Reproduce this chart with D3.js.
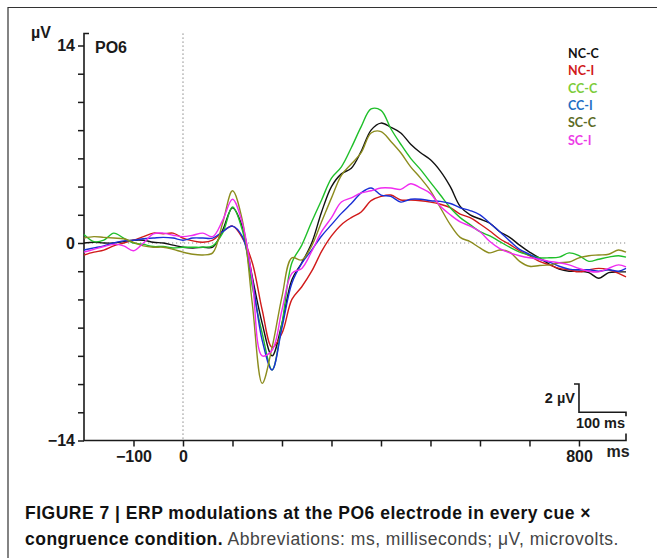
<!DOCTYPE html>
<html>
<head>
<meta charset="utf-8">
<script src="https://cdn.jsdelivr.net/npm/d3@7"></script>
<style>
  body { margin: 0; background: #fff; }
  svg { display: block; font-family: "Liberation Sans", Arial, sans-serif; }
  .axis text { font-size: 16px; font-weight: bold; fill: #1a1a1a; }
  .axis line { stroke: #1a1a1a; stroke-width: 1.5; }
  .legend text { font-family: Lato, "Open Sans", sans-serif; font-size: 12.5px; font-weight: bold; }
  .caption { font-size: 17.5px; fill: #111; letter-spacing: 0.5px; }
</style>
</head>
<body>
<svg id="erp" width="657" height="558"></svg>
<script>
// time points (ms)
const times = [-200, -180, -160, -140, -120, -100, -80, -60, -40, -20,
  0, 20, 40, 60, 80, 100, 120, 140, 160, 180,
  200, 220, 240, 260, 280, 300, 320, 340, 360, 380,
  400, 420, 440, 460, 480, 500, 520, 540, 560, 580,
  600, 620, 640, 660, 680, 700, 720, 740, 760, 780,
  800, 820, 840, 860, 880, 895];

// amplitudes (µV) per condition
const ncC = [0.0, 0.05, 0.0, 0.0, 0.1, 0.2, 0.2, 0.05, 0.0, -0.15,
  -0.3, -0.35, -0.3, -0.3, 0.9, 2.5, 1.15, -2.4, -5.7, -8.0,
  -5.7, -2.6, -1.4, 0.0, 2.2, 4.0, 4.9, 5.3, 6.5, 8.0,
  8.5, 8.2, 7.8, 7.0, 6.4, 5.9, 5.1, 4.0, 2.6, 2.0,
  1.7, 1.4, 0.8, 0.4, -0.15, -0.65, -1.05, -1.5, -1.85, -2.0,
  -2.0, -2.1, -2.5, -2.1, -2.05, -2.05];
const ncI = [-0.85, -0.65, -0.5, -0.2, 0.0, 0.2, 0.45, 0.7, 0.65, 0.7,
  0.35, 0.15, 0.05, 0.2, 0.8, 1.2, 0.35, -1.4, -4.75, -7.4,
  -6.4, -4.0, -3.1, -2.0, -0.6, 0.5, 1.3, 1.8, 2.2, 3.0,
  3.3, 3.4, 3.05, 3.05, 3.0, 2.9, 2.75, 2.5, 2.05, 1.8,
  1.35, 0.85, 0.3, -0.1, -0.55, -0.9, -1.3, -1.55, -1.8, -1.9,
  -2.05, -1.9, -1.8, -1.9, -2.15, -2.4];
const ccC = [0.6, 0.1, 0.2, 0.7, 0.35, 0.0, -0.1, -0.25, -0.25, -0.35,
  -0.3, -0.3, -0.3, -0.2, 0.7, 2.55, 0.9, -3.1, -6.4, -9.0,
  -5.7, -1.4, -0.15, 1.5, 3.05, 4.6, 5.4, 6.75, 8.25, 9.5,
  9.4, 8.1, 7.0, 6.0, 5.2, 4.3, 3.4, 2.5, 1.8, 1.3,
  0.8, 0.5, 0.1, -0.3, -0.65, -0.85, -1.05, -1.05, -1.0, -0.7,
  -0.9, -1.3, -1.15, -1.0, -0.9, -1.0];
const ccI = [-0.5, -0.35, -0.2, 0.0, 0.15, 0.2, 0.3, 0.35, 0.4, 0.35,
  0.2, 0.35, 0.35, 0.35, 0.8, 1.2, 0.45, -2.6, -6.9, -9.0,
  -6.0, -2.85, -1.45, -0.5, 0.5, 1.3, 2.1, 2.8, 3.55, 3.9,
  3.4, 3.3, 2.9, 3.1, 3.1, 3.0, 2.95, 2.8, 2.5, 2.3,
  2.0, 1.4, 0.8, 0.15, -0.45, -0.8, -1.15, -1.35, -1.65, -1.85,
  -1.9, -1.9, -2.0, -1.9, -2.0, -1.8];
const scC = [0.35, 0.45, 0.4, 0.35, 0.3, 0.05, -0.2, -0.3, -0.3, -0.45,
  -0.65, -0.8, -0.85, -0.7, 1.4, 3.7, 1.6, -4.3, -9.95, -7.4,
  -3.8, -1.05, -1.2, -0.2, 1.5, 3.2, 4.8, 5.6, 6.4, 7.8,
  7.9, 7.2, 6.4, 5.4, 4.6, 3.7, 2.5, 1.3, 0.4, 0.1,
  -0.35, -0.7, -0.5, -0.65, -1.3, -1.65, -1.6, -1.55, -1.4, -1.35,
  -1.05, -0.9, -0.85, -0.8, -0.5, -0.65];
const scI = [-0.65, -0.45, -0.25, -0.1, -0.2, -0.55, 0.0, 0.65, 0.7, 0.55,
  0.45, 0.55, 0.7, 0.45, 1.6, 3.1, 1.4, -2.6, -8.0, -7.6,
  -4.75, -2.15, -1.8, -0.6, 0.8, 1.8, 2.9, 3.2, 3.55, 3.7,
  3.9, 3.9, 3.8, 4.2, 3.9, 3.5, 2.6, 2.0, 1.5, 1.2,
  0.8, 0.1, -0.4, -0.7, -0.9, -1.05, -1.15, -1.3, -1.4, -1.55,
  -1.8, -2.0, -2.05, -1.8, -1.55, -1.7];

const conditions = ["NC-C", "NC-I", "CC-C", "CC-I", "SC-C", "SC-I"];
const seriesValues = [ncC, ncI, ccC, ccI, scC, scI];

const yTicks = [-14, -12, -10, -8, -6, -4, -2, 0, 2, 4, 6, 8, 10, 12, 14];
const yLabels = [-14, 0, 14];
const xTicks = [-100, 0, 100, 200, 300, 400, 500, 600, 700, 800];
const xLabels = [-100, 0, 800];

const lineColors = ["#111111", "#d11a1a", "#1fbf2a", "#1a2fd6", "#8c8c1e", "#f02cf0"];
const legendColors = ["#111111", "#d11a1a", "#7ccc3a", "#1f6fc4", "#5c6b25", "#ec3ce6"];

const svg = d3.select("#erp");

// figure frame
svg.append("path")
  .attr("d", "M8,560 V7.5 H660")
  .attr("fill", "none")
  .attr("stroke", "#333")
  .attr("stroke-width", 1.2);

const x = d3.scaleLinear().domain([-200, 895]).range([84, 626]);
const y = d3.scaleLinear().domain([-14, 14]).range([440.5, 45.5]);

// dotted reference lines
svg.append("line")
  .attr("x1", x(0)).attr("x2", x(0))
  .attr("y1", y(14) - 12).attr("y2", y(-14))
  .attr("stroke", "#888").attr("stroke-width", 1.2)
  .attr("stroke-dasharray", "1.2,2.8");
svg.append("line")
  .attr("x1", x(-200)).attr("x2", x(895))
  .attr("y1", y(0)).attr("y2", y(0))
  .attr("stroke", "#888").attr("stroke-width", 1.2)
  .attr("stroke-dasharray", "1.2,2.8");

// axes
const yAxis = svg.append("g")
  .attr("class", "axis y-axis")
  .attr("transform", `translate(${x(-200)},0)`)
  .call(d3.axisLeft(y)
    .tickValues(yTicks)
    .tickSize(6)
    .tickPadding(3)
    .tickFormat(d => yLabels.includes(d) ? d3.format("d")(d) : ""));
yAxis.select(".domain").remove();

const xAxis = svg.append("g")
  .attr("class", "axis x-axis")
  .attr("transform", `translate(0,${y(-14)})`)
  .call(d3.axisBottom(x)
    .tickValues(xTicks)
    .tickSize(6)
    .tickPadding(4)
    .tickFormat(d => xLabels.includes(d) ? d3.format("d")(d) : ""));
xAxis.select(".domain").remove();

// axis lines with end caps
svg.append("path")
  .attr("d", `M${x(-200) + 5},${y(14) - 12} H${x(-200)} V${y(-14)} H${x(895)} V${y(-14) - 7}`)
  .attr("fill", "none")
  .attr("stroke", "#1a1a1a")
  .attr("stroke-width", 1.6);

// unit labels
svg.append("text")
  .attr("x", 31).attr("y", 38)
  .attr("font-size", 16).attr("font-weight", "bold").attr("fill", "#1a1a1a")
  .text("µV");
svg.append("text")
  .attr("x", 95).attr("y", 53)
  .attr("font-size", 16).attr("font-weight", "bold").attr("fill", "#1a1a1a")
  .text("PO6");
svg.append("text")
  .attr("x", 618).attr("y", 457)
  .attr("text-anchor", "middle")
  .attr("font-size", 16).attr("font-weight", "bold").attr("fill", "#222")
  .text("ms");

// scale bar: 2 µV by 100 ms
svg.append("path")
  .attr("d", `M${x(800) - 5},${y(-10)} H${x(800)} V${y(-12)} H${x(895)} V${y(-12) + 4}`)
  .attr("fill", "none")
  .attr("stroke", "#1a1a1a")
  .attr("stroke-width", 1.6);
svg.append("text")
  .attr("x", x(800) - 4).attr("y", y(-11) + 5)
  .attr("text-anchor", "end")
  .attr("font-size", 14.5).attr("font-weight", "bold").attr("fill", "#1a1a1a")
  .text("2 µV");
svg.append("text")
  .attr("x", (x(800) + x(895)) / 2 - 2).attr("y", y(-12) + 16)
  .attr("text-anchor", "middle")
  .attr("font-size", 14.5).attr("font-weight", "bold").attr("fill", "#1a1a1a")
  .text("100 ms");

// waveforms
const line = d3.line()
  .x((d, i) => x(times[i]))
  .y(d => y(d))
  .curve(d3.curveCatmullRom.alpha(0.5));

svg.selectAll(".wave")
  .data(seriesValues)
  .enter().append("path")
  .attr("class", "wave")
  .attr("fill", "none")
  .attr("stroke", (d, i) => lineColors[i])
  .attr("stroke-width", 1.4)
  .attr("d", line);

// legend
const legend = svg.append("g").attr("class", "legend");
legend.selectAll("text")
  .data(conditions)
  .enter().append("text")
  .attr("x", 568)
  .attr("y", (d, i) => 58 + i * 17.3)
  .attr("fill", (d, i) => legendColors[i])
  .text(d => d);

// caption
const caption = svg.append("text").attr("class", "caption");
caption.append("tspan")
  .attr("x", 25).attr("y", 519)
  .attr("font-weight", "bold")
  .text("FIGURE 7 | ERP modulations at the PO6 electrode in every cue ×");
caption.append("tspan")
  .attr("x", 25).attr("y", 545)
  .attr("font-weight", "bold")
  .text("congruence condition.");
caption.append("tspan")
  .attr("fill", "#444")
  .text(" Abbreviations: ms, milliseconds; μV, microvolts.");
</script>
</body>
</html>
